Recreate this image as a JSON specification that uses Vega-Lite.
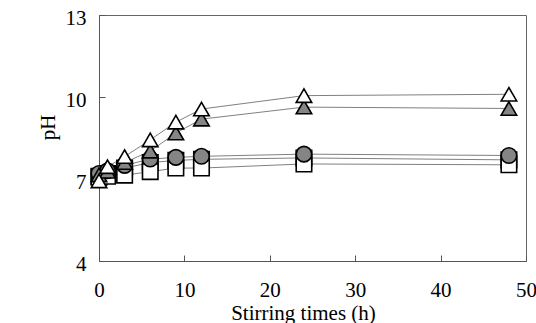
{
  "$schema": "https://vega.github.io/schema/vega-lite/v6.json",
  "width": 427,
  "height": 246,
  "autosize": {"type": "none"},
  "padding": {"left": 99, "top": 15, "right": 10, "bottom": 62},
  "background": "white",
  "config": {
    "view": {"stroke": "#666", "strokeWidth": 1},
    "axis": {
      "grid": false,
      "domainColor": "#555",
      "domainWidth": 1,
      "tickColor": "#555",
      "tickSize": -6,
      "labelFont": "Liberation Serif",
      "labelFontSize": 21,
      "labelColor": "black",
      "titleFont": "Liberation Serif",
      "titleFontSize": 21,
      "titleFontWeight": "normal",
      "titleColor": "black",
      "labelFlush": false,
      "labelOverlap": false
    }
  },
  "data": {
    "values": [
      {"series": "D", "t": 0, "pH": 7.1}, {"series": "D", "t": 1, "pH": 7.2}, {"series": "D", "t": 3, "pH": 7.4}, {"series": "D", "t": 6, "pH": 7.6}, {"series": "D", "t": 9, "pH": 7.68}, {"series": "D", "t": 12, "pH": 7.72}, {"series": "D", "t": 24, "pH": 7.77}, {"series": "D", "t": 48, "pH": 7.7},
      {"series": "E", "t": 0, "pH": 7.07}, {"series": "E", "t": 1, "pH": 7.1}, {"series": "E", "t": 3, "pH": 7.14}, {"series": "E", "t": 6, "pH": 7.27}, {"series": "E", "t": 9, "pH": 7.4}, {"series": "E", "t": 12, "pH": 7.4}, {"series": "E", "t": 24, "pH": 7.55}, {"series": "E", "t": 48, "pH": 7.52},
      {"series": "C", "t": 0, "pH": 7.2}, {"series": "C", "t": 1, "pH": 7.3}, {"series": "C", "t": 3, "pH": 7.5}, {"series": "C", "t": 6, "pH": 7.73}, {"series": "C", "t": 9, "pH": 7.79}, {"series": "C", "t": 12, "pH": 7.83}, {"series": "C", "t": 24, "pH": 7.91}, {"series": "C", "t": 48, "pH": 7.86},
      {"series": "B", "t": 0, "pH": 7.15}, {"series": "B", "t": 1, "pH": 7.28}, {"series": "B", "t": 3, "pH": 7.6}, {"series": "B", "t": 6, "pH": 8.02}, {"series": "B", "t": 9, "pH": 8.68}, {"series": "B", "t": 12, "pH": 9.19}, {"series": "B", "t": 24, "pH": 9.63}, {"series": "B", "t": 48, "pH": 9.58},
      {"series": "A", "t": 0, "pH": 6.93}, {"series": "A", "t": 1, "pH": 7.45}, {"series": "A", "t": 3, "pH": 7.82}, {"series": "A", "t": 6, "pH": 8.43}, {"series": "A", "t": 9, "pH": 9.08}, {"series": "A", "t": 12, "pH": 9.56}, {"series": "A", "t": 24, "pH": 10.05}, {"series": "A", "t": 48, "pH": 10.1}
    ]
  },
  "encoding": {
    "x": {
      "field": "t", "type": "quantitative",
      "scale": {"domain": [0, 50], "nice": false},
      "axis": {
        "values": [0, 10, 20, 30, 40, 50],
        "title": "Stirring times (h)",
        "labelPadding": 24,
        "titleX": 204, "titleY": 58,
        "titleAnchor": null, "titleAlign": "center", "titleBaseline": "alphabetic"
      }
    },
    "y": {
      "field": "pH", "type": "quantitative",
      "scale": {"domain": [4, 13], "nice": false, "zero": false},
      "axis": {
        "values": [4, 7, 10, 13],
        "title": "pH",
        "labelPadding": 19,
        "labelOffset": 3,
        "titleAngle": 270, "titleX": -51, "titleY": 112,
        "titleAlign": "center", "titleBaseline": "middle"
      }
    }
  },
  "layer": [
    {
      "mark": {"type": "line", "color": "#808080", "strokeWidth": 1},
      "encoding": {"detail": {"field": "series"}}
    },
    {
      "mark": {"type": "point", "filled": true, "stroke": "black", "strokeWidth": 1.6, "opacity": 1},
      "encoding": {
        "shape": {"field": "series", "type": "nominal", "legend": null,
          "scale": {"domain": ["A", "B", "C", "D", "E"], "range": ["triangle-up", "triangle-up", "circle", "square", "square"]}},
        "fill": {"field": "series", "type": "nominal", "legend": null,
          "scale": {"domain": ["A", "B", "C", "D", "E"], "range": ["white", "#858585", "#858585", "#858585", "white"]}},
        "size": {"field": "series", "type": "nominal", "legend": null,
          "scale": {"domain": ["A", "B", "C", "D", "E"], "range": [240, 240, 165, 140, 140]}}
      }
    }
  ]
}
